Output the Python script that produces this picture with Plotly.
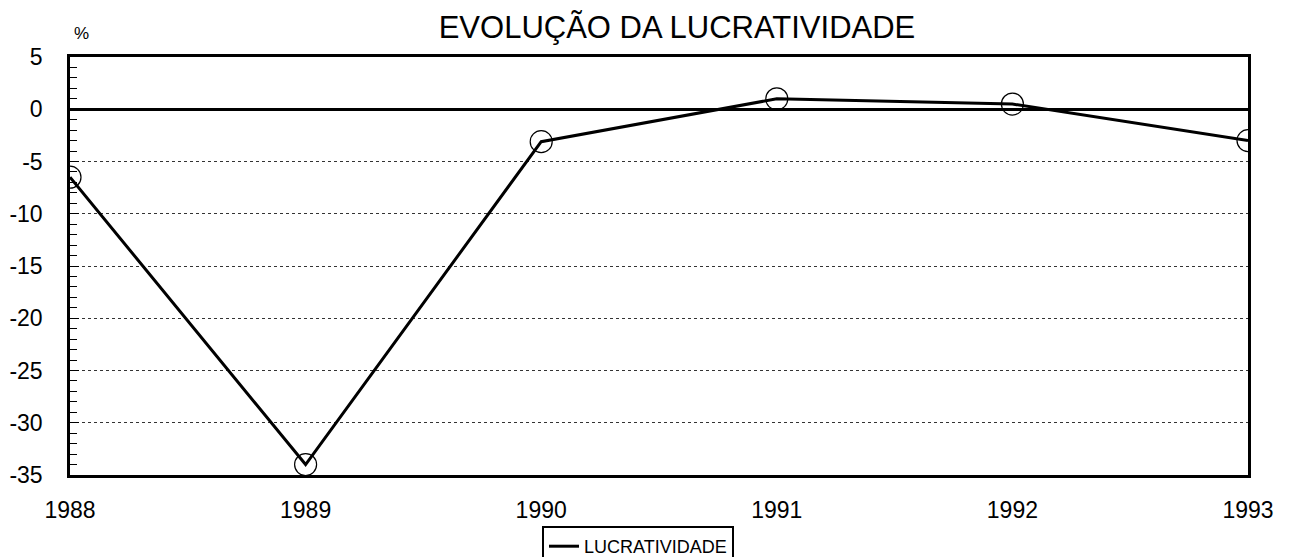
import plotly.graph_objects as go

years = [1988, 1989, 1990, 1991, 1992, 1993]
lucratividade = [-6.5, -34.0, -3.1, 1.0, 0.5, -3.0]
y_ticks = [5, 0, -5, -10, -15, -20, -25, -30, -35]
y_ticktext = ["5", "0", "-5", "-10", "-15", "-20", "-25", "-30", "-35"]

W, H = 1285, 549  # page body has an 8px margin

fig = go.Figure()
fig.add_trace(go.Scatter(
    x=years, y=lucratividade, mode="lines", name="LUCRATIVIDADE",
    line=dict(color="black", width=3), showlegend=True,
))
fig.add_trace(go.Scatter(
    x=years, y=lucratividade, mode="markers", name="LUCRATIVIDADE", showlegend=False,
    marker=dict(symbol="circle-open", size=22, color="black", line=dict(width=1.2, color="black")),
))

fig.update_layout(
    width=W, height=H,
    paper_bgcolor="white", plot_bgcolor="white",
    margin=dict(l=62, r=45, t=49, b=82),
    font=dict(family="Liberation Sans, Arial, sans-serif", color="black", size=18),
    title=dict(text="EVOLUÇÃO DA LUCRATIVIDADE", x=669 / W, xanchor="center", xref="container",
               y=1 - 19 / H, yanchor="middle", yref="container", font=dict(size=31)),
    showlegend=True,
    legend=dict(x=534 / W, y=1 - 518 / H, xref="container", yref="container",
                xanchor="left", yanchor="top",
                orientation="h", bordercolor="black", borderwidth=2, font=dict(size=18),
                itemwidth=30, bgcolor="white", tracegroupgap=0),
    annotations=[dict(text="%", x=0.0, y=1.0, xref="paper", yref="paper", xanchor="left",
                      yanchor="bottom", xshift=2, yshift=12, showarrow=False, font=dict(size=17))],
)
fig.update_xaxes(
    range=[1988, 1993], tickvals=years, ticktext=[str(y) for y in years],
    showgrid=False, zeroline=False, showline=True, linecolor="black", linewidth=2.5, mirror=True,
    ticks="", automargin=False, tickfont=dict(size=23), ticklabelstandoff=13,
)
fig.update_yaxes(
    range=[-35, 5], tickvals=y_ticks, ticktext=y_ticktext,
    showgrid=True, griddash="dot", gridcolor="#333", gridwidth=1,
    zeroline=True, zerolinecolor="black", zerolinewidth=2.5,
    showline=True, linecolor="black", linewidth=2.5, mirror=True,
    ticks="inside", ticklen=9, tickcolor="black",
    minor=dict(dtick=1, ticks="inside", ticklen=7, tickcolor="black", showgrid=False),
    automargin=False, tickfont=dict(size=23), ticklabelstandoff=20,
)
fig.write_html("out.html")
